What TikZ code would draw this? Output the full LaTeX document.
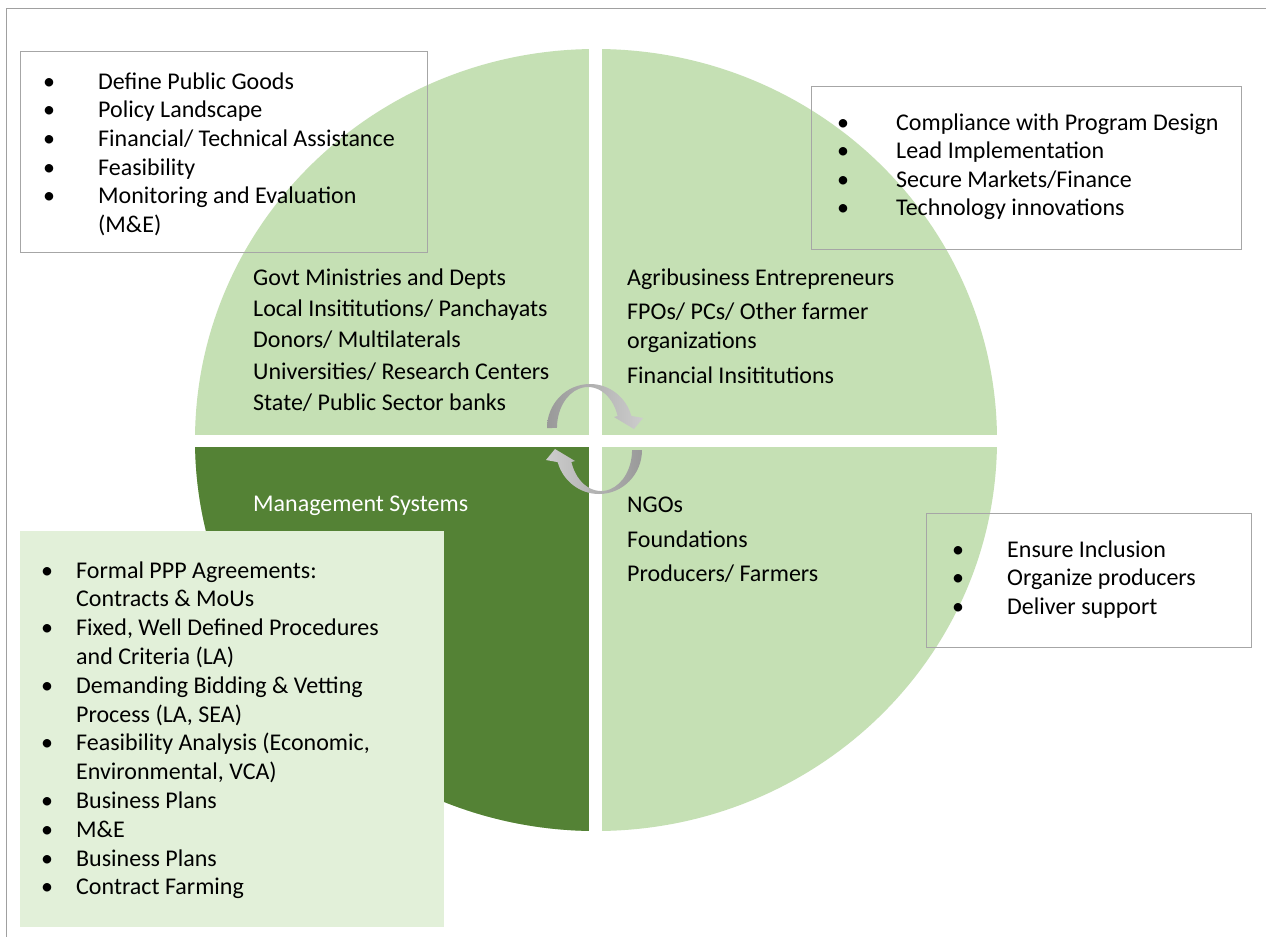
\documentclass[tikz,border=0pt]{standalone}
\usepackage{fontspec}
\setmainfont{Carlito}
\definecolor{lightg}{HTML}{C5E0B4}
\definecolor{darkg}{HTML}{548235}
\definecolor{paleg}{HTML}{E2F0D9}
\definecolor{boxgray}{HTML}{A6A6A6}
\definecolor{framegray}{HTML}{A0A0A0}
\definecolor{arrdark}{HTML}{999999}
\definecolor{arrlight}{HTML}{CDCDCD}
\newcommand\bul{\makebox[12pt]{\textbullet}}
\newcommand\txtsize{\fontsize{24}{28.6}\selectfont}
\newcommand\txtsizeb{\fontsize{24}{28.8}\selectfont}
\tikzset{
  pbox/.style={draw=boxgray, line width=1.2pt, inner sep=0pt, anchor=north west},
  fbox/.style={fill=paleg, inner sep=0pt, anchor=north west},
  txt/.style={anchor=base west, inner sep=0pt, font=\txtsize, text=black},
}
\begin{document}
\begin{tikzpicture}[x=1pt,y=-1pt]
\useasboundingbox (0,0) rectangle (1266,937);
\fill[white] (0,0) rectangle (1266,937);
% outer frame
\draw[framegray, line width=1.4pt] (1266,8.5) -- (6.5,8.5) -- (6.5,937);
% circle
\fill[lightg] (596,440) ellipse [x radius=401, y radius=391];
\begin{scope}
  \clip (180,440) rectangle (596,850);
  \fill[darkg] (596,440) ellipse [x radius=401, y radius=391];
\end{scope}
\fill[white] (589.3,40) rectangle (602,845);
\fill[white] (185,435) rectangle (1010,447);
% boxes
\node[pbox, minimum width=407pt, minimum height=201pt] (tl) at (20,51) {};
\node[pbox, minimum width=430pt, minimum height=163pt] (tr) at (811,86) {};
\node[pbox, minimum width=325pt, minimum height=134pt] (br) at (926,513) {};
\node[fbox, minimum width=424pt, minimum height=396pt] (bl) at (20,531) {};
% box texts
\node[txt] (tltext) at (43,89.3) {\begin{tabular}[t]{@{}l@{\hspace{43pt}}l@{}}
\bul & Define Public Goods\\
\bul & Policy Landscape\\
\bul & Financial/ Technical Assistance\\
\bul & Feasibility\\
\bul & Monitoring and Evaluation\\
 & (M\&E)
\end{tabular}};
\node[txt] (trtext) at (837,130) {\begin{tabular}[t]{@{}l@{\hspace{47pt}}l@{}}
\bul & Compliance with Program Design\\
\bul & Lead Implementation\\
\bul & Secure Markets/Finance\\
\bul & Technology innovations
\end{tabular}};
\node[txt] (brtext) at (952,557) {\begin{tabular}[t]{@{}l@{\hspace{43pt}}l@{}}
\bul & Ensure Inclusion\\
\bul & Organize producers\\
\bul & Deliver support
\end{tabular}};
\node[txt, font=\txtsizeb] (bltext) at (41,578) {\begin{tabular}[t]{@{}l@{\hspace{23pt}}l@{}}
\bul & Formal PPP Agreements:\\
 & Contracts \& MoUs\\
\bul & Fixed, Well Defined Procedures\\
 & and Criteria (LA)\\
\bul & Demanding Bidding \& Vetting\\
 & Process (LA, SEA)\\
\bul & Feasibility Analysis (Economic,\\
 & Environmental, VCA)\\
\bul & Business Plans\\
\bul & M\&E\\
\bul & Business Plans\\
\bul & Contract Farming
\end{tabular}};
% quadrant texts
\node[txt] (q1) at (253,285) {\begin{tabular}[t]{@{}l@{}}
Govt Ministries and Depts\\[2.8pt]
Local Insititutions/ Panchayats\\[2.8pt]
Donors/ Multilaterals\\[2.8pt]
Universities/ Research Centers\\[2.8pt]
State/ Public Sector banks
\end{tabular}};
\node[txt] (q2) at (627,285) {\begin{tabular}[t]{@{}l@{}}
Agribusiness Entrepreneurs\\[6pt]
FPOs/ PCs/ Other farmer\\
organizations\\[7pt]
Financial Insititutions
\end{tabular}};
\node[txt] (q4) at (627,512) {\begin{tabular}[t]{@{}l@{}}
NGOs\\[6.4pt]
Foundations\\[5.4pt]
Producers/ Farmers
\end{tabular}};
\node[txt, text=white] (q3) at (253,511) {Management Systems};
% circular arrows
\shade[left color=arrdark, right color=arrlight]
  (547,428) arc[start angle=180, end angle=344, x radius=43, y radius=44]
  -- (643,418) -- (634,429) -- (614,417) -- (617.6,416)
  arc[start angle=343, end angle=180, x radius=31, y radius=41] -- cycle;
\begin{scope}[rotate around={180:(594.5,439)}]
\shade[left color=arrlight, right color=arrdark]
  (547,428) arc[start angle=180, end angle=344, x radius=43, y radius=44]
  -- (643,418) -- (634,429) -- (614,417) -- (617.6,416)
  arc[start angle=343, end angle=180, x radius=31, y radius=41] -- cycle;
\end{scope}
\end{tikzpicture}
\end{document}
